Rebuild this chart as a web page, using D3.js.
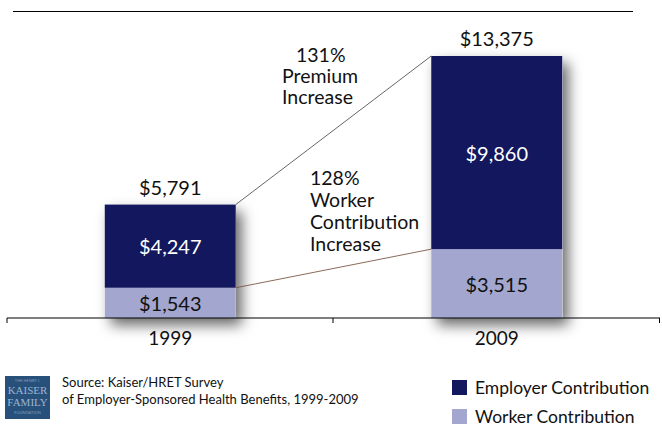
<!DOCTYPE html>
<html>
<head>
<meta charset="utf-8">
<script src="https://cdn.jsdelivr.net/npm/d3@7"></script>
<style>
  body { margin: 0; background: #fff; }
  svg { display: block; font-family: Lato, "Open Sans", sans-serif; }
</style>
</head>
<body>
<svg id="chart" width="662" height="428"></svg>
<script>
const years = ["1999", "2009"];
const worker = [1543, 3515];
const employer = [4247, 9860];
const totals = [5791, 13375];
const seriesNames = ["Employer Contribution", "Worker Contribution"];
const colors = { employer: "#13175d", worker: "#a3a6ce" };

const svg = d3.select("#chart");

const x = d3.scaleBand()
    .domain(years)
    .range([7, 660])
    .paddingInner(0)
    .paddingOuter(0);

const y = d3.scaleLinear()
    .domain([0, d3.max(totals)])
    .range([318, 56]);

const barW = 131;
const fmt = d => "$" + d3.format(",")(d);

// drop shadow
const defs = svg.append("defs");
const f = defs.append("filter").attr("id", "shadow")
    .attr("x", "-30%").attr("y", "-30%").attr("width", "160%").attr("height", "160%");
f.append("feDropShadow")
    .attr("dx", 6).attr("dy", 7).attr("stdDeviation", 7)
    .attr("flood-color", "#000").attr("flood-opacity", 0.6);

// top rule
svg.append("line")
    .attr("x1", 13).attr("x2", 633).attr("y1", 11.5).attr("y2", 11.5)
    .attr("stroke", "#000").attr("stroke-width", 1.2);

const data = years.map((yr, i) => ({ year: yr, worker: worker[i], employer: employer[i], total: totals[i] }));
const bx = d => x(d.year) + x.bandwidth() / 2 - barW / 2;
const cx = d => x(d.year) + x.bandwidth() / 2;

// shadows
svg.append("g").selectAll("rect")
    .data(data).enter().append("rect")
    .attr("x", bx)
    .attr("y", d => y(d.total))
    .attr("width", barW)
    .attr("height", d => y(0) - y(d.total))
    .attr("fill", "#fff")
    .attr("filter", "url(#shadow)");

// connector lines
svg.append("line")
    .attr("x1", bx(data[0]) + barW).attr("y1", y(data[0].total))
    .attr("x2", bx(data[1])).attr("y2", y(data[1].total))
    .attr("stroke", "#555").attr("stroke-width", 0.9);
svg.append("line")
    .attr("x1", bx(data[0]) + barW).attr("y1", y(data[0].worker))
    .attr("x2", bx(data[1])).attr("y2", y(data[1].worker))
    .attr("stroke", "#7a5a48").attr("stroke-width", 0.9);

// stacked bars
const bars = svg.append("g");
bars.selectAll(".worker")
    .data(data).enter().append("rect")
    .attr("class", "worker")
    .attr("x", bx)
    .attr("y", d => y(d.worker))
    .attr("width", barW)
    .attr("height", d => y(0) - y(d.worker))
    .attr("fill", colors.worker);
bars.selectAll(".employer")
    .data(data).enter().append("rect")
    .attr("class", "employer")
    .attr("x", bx)
    .attr("y", d => y(d.total))
    .attr("width", barW)
    .attr("height", d => y(d.worker) - y(d.total))
    .attr("fill", colors.employer);

// axis
const axis = svg.append("g").attr("transform", "translate(0,318)");
axis.append("line").attr("x1", 7).attr("x2", 660).attr("stroke", "#000").attr("stroke-width", 1.2);
[7, 333, 659.5].forEach(t => axis.append("line")
    .attr("x1", t).attr("x2", t).attr("y1", 0).attr("y2", 5)
    .attr("stroke", "#000").attr("stroke-width", 1));
axis.selectAll("text.year")
    .data(years).enter().append("text")
    .attr("x", d => x(d) + x.bandwidth() / 2)
    .attr("y", 27)
    .attr("text-anchor", "middle")
    .attr("font-size", 19)
    .attr("fill", "#111")
    .text(d => d);

// value labels
const lbl = svg.append("g").attr("text-anchor", "middle").attr("font-size", 20);
lbl.selectAll(".tot").data(data).enter().append("text")
    .attr("x", cx)
    .attr("y", d => y(d.total) - 10)
    .attr("fill", "#111")
    .text(d => fmt(d.total));
lbl.selectAll(".emp").data(data).enter().append("text")
    .attr("x", cx)
    .attr("y", d => (y(d.total) + y(d.worker)) / 2 + 8)
    .attr("fill", "#fff")
    .text(d => fmt(d.employer));
lbl.selectAll(".wrk").data(data).enter().append("text")
    .attr("x", cx)
    .attr("y", d => (y(d.worker) + y(0)) / 2 + 8)
    .attr("fill", "#111")
    .text(d => fmt(d.worker));

// annotations
const ann = svg.append("g").attr("font-size", 19.5).attr("fill", "#111");
[["131%", 296, 62], ["Premium", 282, 83], ["Increase", 282, 104],
 ["128%", 310, 185], ["Worker", 310, 207], ["Contribution", 310, 229], ["Increase", 310, 251]]
    .forEach(([t, tx, ty]) => ann.append("text").attr("x", tx).attr("y", ty).text(t));

// logo
const logo = svg.append("g").attr("transform", "translate(5,376)");
logo.append("rect").attr("width", 45).attr("height", 43).attr("fill", "#27507a");
logo.append("text").attr("x", 22.5).attr("y", 6).attr("text-anchor", "middle")
    .attr("font-size", 4).attr("fill", "#7f9ebf").text("THE HENRY J.");
logo.append("text").attr("x", 22.5).attr("y", 18).attr("text-anchor", "middle")
    .attr("font-size", 11).attr("font-family", "Liberation Serif")
    .attr("fill", "#9db5d2").text("KAISER");
logo.append("text").attr("x", 22.5).attr("y", 30).attr("text-anchor", "middle")
    .attr("font-size", 11).attr("font-family", "Liberation Serif")
    .attr("fill", "#9db5d2").text("FAMILY");
logo.append("text").attr("x", 22.5).attr("y", 38).attr("text-anchor", "middle")
    .attr("font-size", 4).attr("fill", "#7f9ebf").text("FOUNDATION");

// source
const src = svg.append("g").attr("font-size", 13).attr("fill", "#111");
src.append("text").attr("x", 62).attr("y", 387).text("Source:  Kaiser/HRET Survey");
src.append("text").attr("x", 62).attr("y", 404).text("of Employer-Sponsored Health Benefits, 1999-2009");

// legend
const leg = svg.append("g").selectAll("g")
    .data(seriesNames).enter().append("g")
    .attr("transform", (d, i) => `translate(452,${380 + i * 29})`);
leg.append("rect").attr("width", 15).attr("height", 15)
    .attr("fill", (d, i) => i === 0 ? colors.employer : colors.worker);
leg.append("text").attr("x", 23).attr("y", 14).attr("font-size", 17.5)
    .attr("fill", "#111").text(d => d);
</script>
</body>
</html>
